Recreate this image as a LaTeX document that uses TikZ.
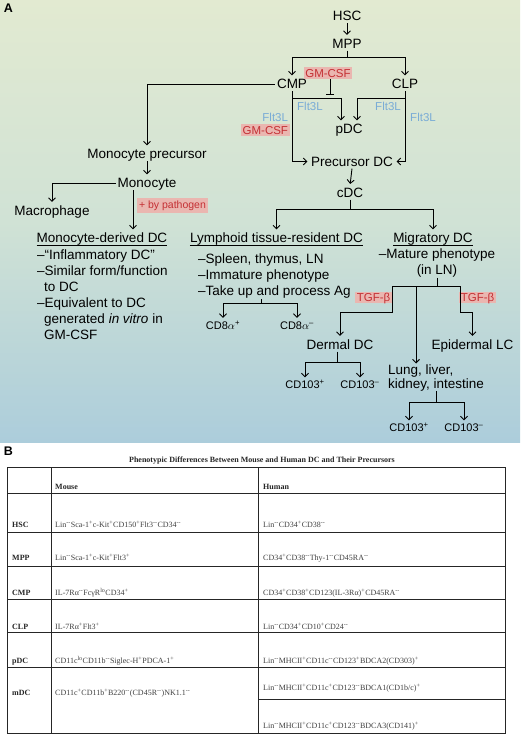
\documentclass[tikz,border=0pt]{standalone}
\usepackage{fontspec}
\setmainfont{Liberation Sans}
\newfontfamily\tabfont{Liberation Serif}
\usetikzlibrary{arrows.meta}
\definecolor{fltblue}{RGB}{122,172,214}
\definecolor{redtxt}{RGB}{196,48,52}
\definecolor{redbg}{RGB}{234,182,176}
\definecolor{bgtop}{RGB}{226,234,209}
\definecolor{bgmid}{RGB}{208,226,213}
\definecolor{bgbot}{RGB}{172,205,219}
\newcommand{\pl}{\textsuperscript{+}}
\newcommand{\mn}{\textsuperscript{--}}

\begin{document}
\begin{tikzpicture}[x=1pt, y=-1pt] % пиксели, ось y вниз
\tikzstyle{lbl} = [font=\fontsize{13.5}{16}\selectfont, inner sep=2pt, text height=9.7pt, text depth=0pt] % cell type
\tikzstyle{items} = [font=\fontsize{13.5}{16}\selectfont, inner sep=0pt, align=left, anchor=north west] % список свойств
\tikzstyle{lab} = [font=\fontsize{11}{13}\selectfont, inner sep=2pt, text height=7.9pt, text depth=0pt] % CD8, CD103
\tikzstyle{fac} = [font=\fontsize{11.5}{13}\selectfont, inner sep=1.8pt, text height=8.3pt, text depth=0pt] % фактор
\tikzstyle{fltl} = [fac, text=fltblue]
\tikzstyle{gm} = [fac, fill=redbg, text=redtxt]
\tikzstyle{ln} = [line width=0.9pt]
\tikzstyle{ul} = [line width=0.8pt, shorten <=2pt, shorten >=2pt] % подчёркивание заголовка
\tikzstyle{arr} = [ln, shorten >=1.5pt, -{Straight Barb[length=3.5pt,width=7pt]}]
\tikzstyle{inh} = [ln, -{Bar[width=8pt]}] % подавление
\tikzstyle{tb} = [font=\tabfont\fontsize{8}{9}\selectfont, inner sep=0pt, anchor=base west, text=black!75]
\tikzstyle{tbh} = [tb, font=\tabfont\bfseries\fontsize{8}{9}\selectfont, text=black!85]

\useasboundingbox (0,0) rectangle (520,735);
\fill[white] (0,0) rectangle (520,735);
\shade[top color=bgtop, bottom color=bgbot, middle color=bgmid] (0,0) rectangle (520,442); % фон панели A
\node[font=\bfseries\fontsize{12.5}{14}\selectfont, inner sep=0pt] (pa) at (8.5,8.5) {A};
\node[font=\bfseries\fontsize{12.5}{14}\selectfont, inner sep=0pt] (pb) at (8.5,451.5) {B};

% предшественники
\node[lbl] (hsc) at (347,16) {HSC};
\node[lbl] (mpp) at (347,43.5) {MPP};
\node[lbl] (cmp) at (292,84) {CMP};
\node[lbl] (clp) at (405,84) {CLP};
\node[lbl] (pdc) at (349,129) {pDC};
\node[lbl] (pre) at (352,161.5) {Precursor DC};
\node[lbl] (cdc) at (350,192.5) {cDC};
\node[gm] (gm1) at (328,73) {GM-CSF};
\node[fltl] (f1) at (310,106) {Flt3L};
\node[fltl] (f2) at (388,106) {Flt3L};
\node[fltl] (f3) at (423,117) {Flt3L};
\node[fltl, anchor=east] (f4) at (290,117) {Flt3L};
\node[gm, anchor=east] (gm2) at (290,130) {GM-CSF};

\coordinate (mppj) at (347,57);
\coordinate (pj) at (0,98);
\coordinate (gmj) at (0,95);
\draw[ln] (mpp.south) -- (mppj);
\draw[arr] (mppj) -| (cmp.north);
\draw[arr] (mppj) -| (clp.north);
\draw[arr] (hsc.south) -- (mpp.north);
\draw[arr] (cmp.south) |- (pre.west);
\draw[arr] (cmp.south |- pj) -| ([xshift=-8pt]pdc.north);
\draw[arr] (clp.south) |- (pre.east);
\draw[arr] (clp.south |- pj) -| ([xshift=8pt]pdc.north);
\draw[inh] ([xshift=2pt]gm1.south) -- ([xshift=2pt]gm1.south |- gmj);
\draw[arr] (pre.south) -- (cdc.north);

% моноциты
\node[lbl] (mpre) at (147,154) {Monocyte precursor};
\node[lbl] (mono) at (147,183) {Monocyte};
\node[lbl] (mac) at (52,210.5) {Macrophage};
\node[gm, font=\fontsize{10.5}{12}\selectfont, text height=7.5pt, text depth=2.2pt, inner sep=2.2pt] (path) at (172.5,205.5) {+ by pathogen};
\node[lbl] (mdch) at (102,238) {Monocyte-derived DC};
\node[items] (mdci) at (37,250) {–“Inflammatory DC”\\–Similar form/function\\\hspace*{7pt}to DC\\–Equivalent to DC\\\hspace*{7pt}generated \textit{in vitro} in\\\hspace*{7pt}GM-CSF};
\draw[ul] ([yshift=-0.8pt]mdch.south west) -- ([yshift=-0.8pt]mdch.south east);
\draw[arr] (cmp.west) -| (mpre.north);
\draw[arr] (mpre.south) -- (mono.north);
\draw[arr] (mono.west) -| (mac.north);
\draw[arr] ([xshift=-14pt]mono.south) -- ([xshift=-14pt]mono.south |- mdch.north);

% cDC
\node[lbl] (lyh) at (276.5,238) {Lymphoid tissue-resident DC};
\node[items] (lyi) at (198,254) {–Spleen, thymus, LN\\–Immature phenotype\\–Take up and process Ag};
\node[lbl] (migh) at (433,238) {Migratory DC};
\node[items, align=center, anchor=north] (migi) at (437,249) {–Mature phenotype\\(in LN)};
\draw[ul] ([yshift=-0.8pt]lyh.south west) -- ([yshift=-0.8pt]lyh.south east);
\draw[ul] ([yshift=-0.8pt]migh.south west) -- ([yshift=-0.8pt]migh.south east);
\coordinate (cj) at (350,209);
\draw[ln] (cdc.south) -- (cj);
\draw[arr] (cj) -| (lyh.north);
\draw[arr] (cj) -| (migh.north);

\node[lab] (cdp) at (223,325.5) {CD8$\alpha$\pl};
\node[lab] (cdm) at (297,325.5) {CD8$\alpha$\mn};
\coordinate (lj) at (261,303);
\draw[ln] (lj |- lyi.south) -- (lj);
\draw[arr] (lj) -| (cdp.north);
\draw[arr] (lj) -| (cdm.north);

% мигрирующие DC
\node[lbl] (derm) at (340,344.5) {Dermal DC};
\node[lbl] (epi) at (472.5,344.5) {Epidermal LC};
\node[items, font=\fontsize{13.5}{13.5}\selectfont] (lung) at (388,365) {Lung, liver,\\kidney, intestine};
\node[gm] (t1) at (373.5,297.5) {TGF-β};
\node[gm] (t2) at (477.5,297.5) {TGF-β};
\coordinate (mj) at (437,286);
\coordinate (mm) at (416,286);
\coordinate (tl) at (392,312);
\coordinate (tr) at (460,312);
\draw[ln] (mj |- migi.south) -- (mj);
\draw[arr] (mj) -| (tl) -| (derm.north);
\draw[arr] (mj) -| (tr) -| (epi.north);
\draw[arr] (mm) -- (mm |- lung.north);

\node[lab] (d1) at (305,385) {CD103\pl};
\node[lab] (d2) at (360,385) {CD103\mn};
\node[lab] (d3) at (409,428) {CD103\pl};
\node[lab] (d4) at (464,428) {CD103\mn};
\coordinate (dj) at (337,362);
\coordinate (kj) at (436,402);
\draw[ln] (dj |- derm.south) -- (dj);
\draw[arr] (dj) -| (d1.north);
\draw[arr] (dj) -| (d2.north);
\draw[ln] (kj |- lung.south) -- (kj);
\draw[arr] (kj) -| (d3.north);
\draw[arr] (kj) -| (d4.north);

% таблица B
\node[tbh, anchor=base] (ttl) at (262,462) {Phenotypic Differences Between Mouse and Human DC and Their Precursors};
\draw[line width=0.9pt, black!85] (7,467) rectangle (505,733)
  (51,467) -- (51,733) (258,467) -- (258,733)
  (7,493) -- (505,493) (7,532) -- (505,532) (7,566) -- (505,566)
  (7,599) -- (505,599) (7,632) -- (505,632) (7,667) -- (505,667)
  (258,699) -- (505,699);
\node[tbh] (hmo) at (55,489) {Mouse};
\node[tbh] (hhu) at (263,489) {Human};
\node[tbh] (rhsc) at (12,527) {HSC};
\node[tb] (mhsc) at (55,527) {Lin\mn Sca-1\pl c-Kit\pl CD150\pl Flt3\mn CD34\mn};
\node[tb] (uhsc) at (263,527) {Lin\mn CD34\pl CD38\mn};
\node[tbh] (rmpp) at (12,560) {MPP};
\node[tb] (mmpp) at (55,560) {Lin\mn Sca-1\pl c-Kit\pl Flt3\pl};
\node[tb] (umpp) at (263,560) {CD34\pl CD38\mn Thy-1\mn CD45RA\mn};
\node[tbh] (rcmp) at (12,595) {CMP};
\node[tb] (mcmp) at (55,595) {IL-7Rα\mn FcγR\textsuperscript{lo}CD34\pl};
\node[tb] (ucmp) at (263,595) {CD34\pl CD38\pl CD123(IL-3Rα)\pl CD45RA\mn};
\node[tbh] (rclp) at (12,629) {CLP};
\node[tb] (mclp) at (55,629) {IL-7Rα\pl Flt3\pl};
\node[tb] (uclp) at (263,629) {Lin\mn CD34\pl CD10\pl CD24\mn};
\node[tbh] (rpdc) at (12,663) {pDC};
\node[tb] (mpdc) at (55,663) {CD11c\textsuperscript{lo}CD11b\mn Siglec-H\pl PDCA-1\pl};
\node[tb] (updc) at (263,663) {Lin\mn MHCII\pl CD11c\mn CD123\pl BDCA2(CD303)\pl};
\node[tbh] (rmdc) at (12,695) {mDC};
\node[tb] (mmdc) at (55,695) {CD11c\pl CD11b\pl B220\mn(CD45R\mn)NK1.1\mn};
\node[tb] (umdc1) at (263,690) {Lin\mn MHCII\pl CD11c\pl CD123\mn BDCA1(CD1b/c)\pl};
\node[tb] (umdc2) at (263,728) {Lin\mn MHCII\pl CD11c\pl CD123\mn BDCA3(CD141)\pl};
\end{tikzpicture}
\end{document}
